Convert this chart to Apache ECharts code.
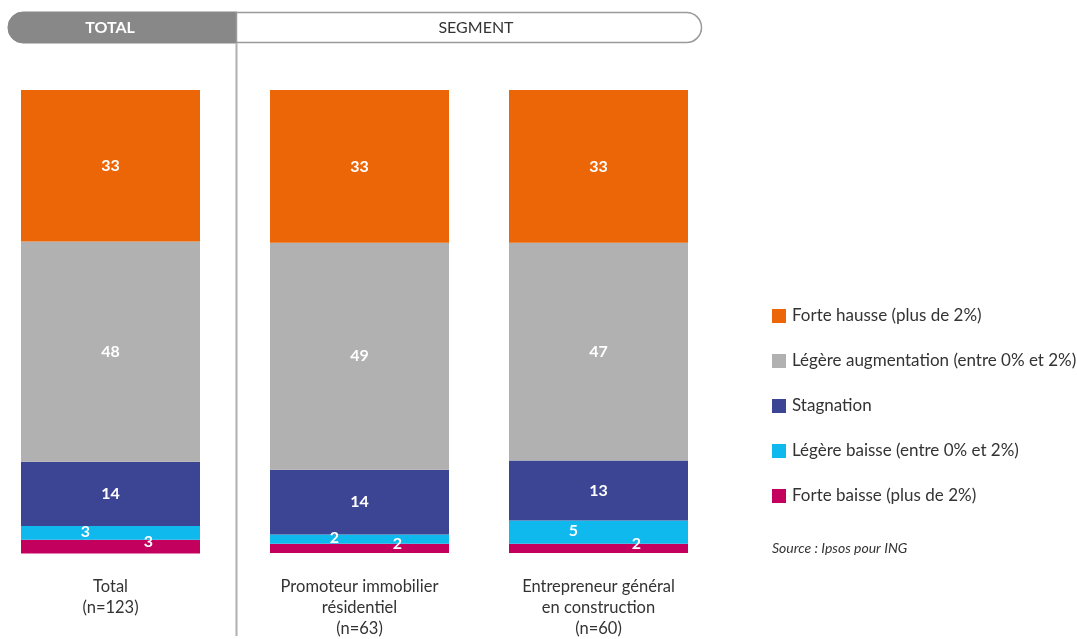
<!DOCTYPE html>
<html>
<head>
<meta charset="utf-8">
<title>Évolution attendue des prix</title>
<script src="https://cdn.jsdelivr.net/npm/echarts@6/dist/echarts.min.js"></script>
<style>
  html, body { margin: 0; padding: 0; background: #ffffff; }
  #chart { width: 1077px; height: 639px; }
</style>
</head>
<body>
<div id="chart"></div>
<script>
// Answer categories, bottom of the stack first
const seriesNames = [
  'Forte baisse (plus de 2%)',
  'Légère baisse (entre 0% et 2%)',
  'Stagnation',
  'Légère augmentation (entre 0% et 2%)',
  'Forte hausse (plus de 2%)'
];
const seriesColors = ['#c3005e', '#0fb9ee', '#3c4594', '#b1b1b1', '#ec6608'];

// Bars: the total on its own, then the two segments
const totalCategories = ['Total\n(n=123)'];
const segmentCategories = [
  'Promoteur immobilier\nrésidentiel\n(n=63)',
  'Entrepreneur général\nen construction\n(n=60)'
];

// Percentages per answer (same order as seriesNames)
const totalValues = [3, 3, 14, 48, 33];
const promoteurValues = [2, 2, 14, 49, 33];
const entrepreneurValues = [2, 5, 13, 47, 33];

const legendOrder = seriesNames.slice().reverse();
const headerTotal = 'TOTAL';
const headerSegment = 'SEGMENT';
const sourceText = 'Source : Ipsos pour ING';

const FONT = 'Lato, "Noto Sans", sans-serif';
const TEXT = '#333333';

const sum = arr => arr.reduce((a, b) => a + b, 0);

function labelFor(i) {
  const base = {
    show: true,
    position: 'inside',
    color: '#ffffff',
    fontFamily: FONT,
    fontSize: 16,
    fontWeight: 'bold'
  };
  if (i === 0) base.offset = [38, -5];
  if (i === 1) base.offset = [-25, -1];
  return base;
}

const series = [];
seriesNames.forEach((name, i) => {
  series.push({
    name: name,
    type: 'bar',
    stack: 'total',
    xAxisIndex: 0,
    yAxisIndex: 0,
    barWidth: 179,
    itemStyle: { color: seriesColors[i] },
    label: labelFor(i),
    data: [totalValues[i]]
  });
  series.push({
    name: name,
    type: 'bar',
    stack: 'segment',
    xAxisIndex: 1,
    yAxisIndex: 1,
    barWidth: 179,
    itemStyle: { color: seriesColors[i] },
    label: labelFor(i),
    data: [promoteurValues[i], entrepreneurValues[i]]
  });
});

const axisLabelStyle = {
  color: TEXT,
  fontFamily: FONT,
  fontSize: 16.5,
  lineHeight: 21,
  margin: 23,
  interval: 0
};

const option = {
  animation: false,
  backgroundColor: '#ffffff',
  grid: [
    { left: 0, width: 221, top: 90, bottom: 85.5 },
    { left: 240, width: 478, top: 90, bottom: 85.5 }
  ],
  xAxis: [
    {
      type: 'category', gridIndex: 0, data: totalCategories,
      axisLine: { show: false }, axisTick: { show: false },
      axisLabel: axisLabelStyle
    },
    {
      type: 'category', gridIndex: 1, data: segmentCategories,
      axisLine: { show: false }, axisTick: { show: false },
      axisLabel: axisLabelStyle
    }
  ],
  yAxis: [
    {
      type: 'value', gridIndex: 0, min: 0, max: sum(totalValues),
      show: false, splitLine: { show: false }
    },
    {
      type: 'value', gridIndex: 1, min: 0,
      max: Math.max(sum(promoteurValues), sum(entrepreneurValues)),
      show: false, splitLine: { show: false }
    }
  ],
  legend: {
    data: legendOrder,
    orient: 'vertical',
    left: 772,
    top: 307.5,
    padding: 0,
    itemWidth: 14,
    itemHeight: 14,
    itemGap: 28,
    icon: 'rect',
    textStyle: { color: TEXT, fontFamily: FONT, fontSize: 17, padding: [0, 0, 0, 1] }
  },
  graphic: [
    // header pill: TOTAL part
    {
      type: 'rect',
      shape: { x: 8, y: 12, width: 229, height: 31, r: [15, 0, 0, 15] },
      style: { fill: '#888888', stroke: '#888888', lineWidth: 1 }
    },
    // header pill: SEGMENT part
    {
      type: 'rect',
      shape: { x: 236.5, y: 12.5, width: 465, height: 30, r: [0, 15, 15, 0] },
      style: { fill: '#ffffff', stroke: '#9a9a9a', lineWidth: 1.5 }
    },
    {
      type: 'text',
      x: 110, y: 28,
      style: {
        text: headerTotal, fill: '#ffffff', fontFamily: FONT, fontSize: 16,
        fontWeight: 'bold', align: 'center', verticalAlign: 'middle'
      }
    },
    {
      type: 'text',
      x: 476, y: 28,
      style: {
        text: headerSegment, fill: TEXT, fontFamily: FONT, fontSize: 16,
        align: 'center', verticalAlign: 'middle'
      }
    },
    // separator between total and segments
    {
      type: 'line',
      shape: { x1: 236.5, y1: 43, x2: 236.5, y2: 636 },
      style: { stroke: '#b0b0b0', lineWidth: 2 }
    },
    {
      type: 'text',
      x: 772, y: 548,
      style: {
        text: sourceText, fill: TEXT, fontFamily: FONT, fontSize: 14,
        fontStyle: 'italic', align: 'left', verticalAlign: 'middle'
      }
    }
  ],
  series: series
};

const chart = echarts.init(document.getElementById('chart'), null, { renderer: 'canvas' });
chart.setOption(option);
</script>
</body>
</html>
